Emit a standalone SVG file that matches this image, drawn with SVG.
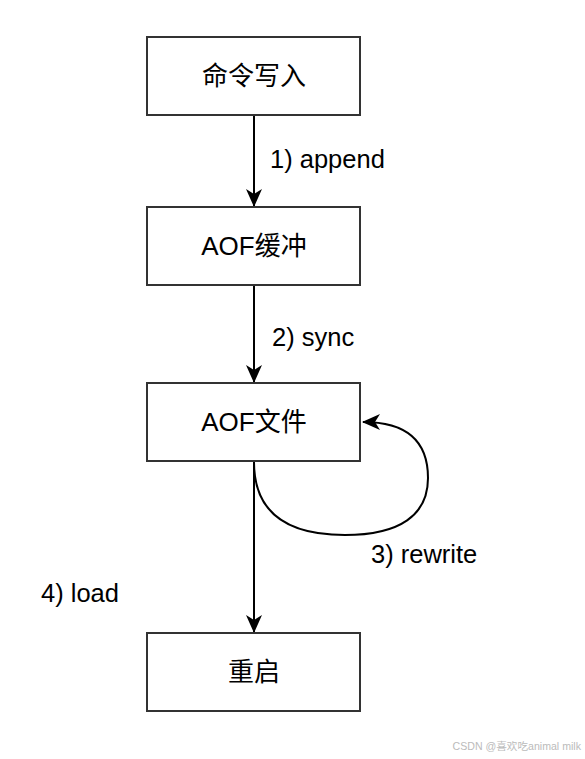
<svg xmlns="http://www.w3.org/2000/svg" width="585" height="759" viewBox="0 0 585 759">
<style>
.box{fill:#ffffff;stroke:#333333;stroke-width:2}
.t{font-family:"Liberation Sans","Noto Sans CJK SC",Arial,sans-serif;font-size:25.5px;fill:#000000}
.c{text-anchor:middle;font-size:26px}
.e{fill:none;stroke:#000000;stroke-width:2}
</style>
<defs>
<marker id="arr" viewBox="0 0 18 16" refX="17" refY="8" markerWidth="18" markerHeight="16" markerUnits="userSpaceOnUse" orient="auto">
<path d="M0,0 L18,8 L0,16 L5,8 Z" fill="#000000"/>
</marker>
</defs>
<rect width="585" height="759" fill="#ffffff"/>
<g id="connectors">
<path class="e" d="M254,116 L254,206" marker-end="url(#arr)"/>
<path class="e" d="M254,286 L254,382" marker-end="url(#arr)"/>
<path class="e" d="M254,462 L254,632" marker-end="url(#arr)"/>
<path class="e" d="M254,462 C254,515 290,535 345,535 C400,535 428,515 428,478 C428,440 405,422 363,422" marker-end="url(#arr)"/>
<text class="t" x="270" y="168">1) append</text>
<text class="t" x="272" y="346">2) sync</text>
<text class="t" x="371" y="563">3) rewrite</text>
<text class="t" x="41" y="602">4) load</text>
</g>
<g id="n1">
<rect class="box" x="147" y="37" width="213" height="78"/>
<text class="t c" x="254" y="85">命令写入</text>
</g>
<g id="n2">
<rect class="box" x="147" y="207" width="213" height="78"/>
<text class="t c" x="254" y="255">AOF缓冲</text>
</g>
<g id="n3">
<rect class="box" x="147" y="383" width="213" height="78"/>
<text class="t c" x="254" y="431">AOF文件</text>
</g>
<g id="n4">
<rect class="box" x="147" y="633" width="213" height="78"/>
<text class="t c" x="254" y="681">重启</text>
</g>
<text x="581" y="750" text-anchor="end" font-family="'Liberation Sans','Noto Sans CJK SC',sans-serif" font-size="10.6" fill="#bbbbbb">CSDN @喜欢吃animal milk</text>
</svg>
